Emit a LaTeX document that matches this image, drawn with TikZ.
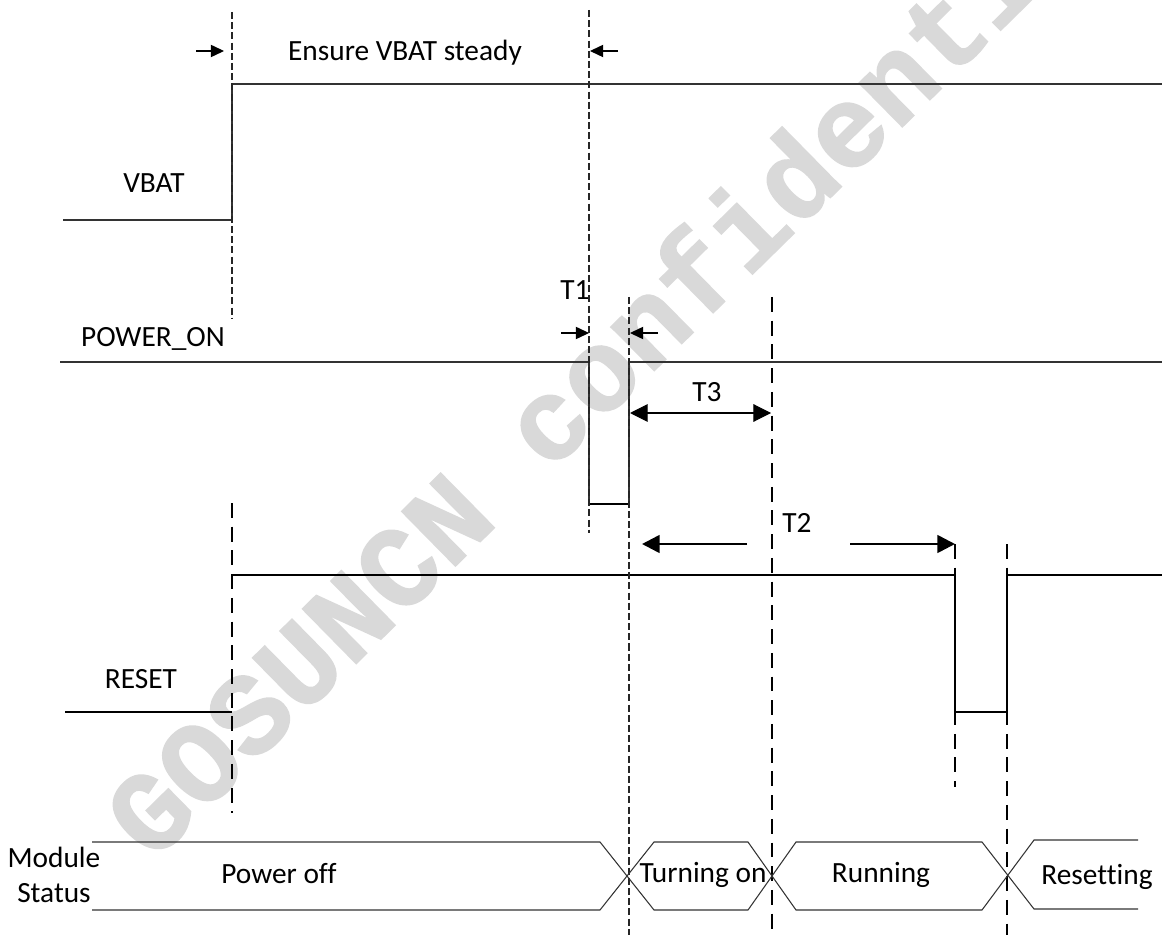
\documentclass[tikz,border=0pt]{standalone}
\usepackage{fontspec}
\setmainfont[Ligatures=NoCommon]{Carlito}
\newfontfamily\wmfont[BoldFeatures={FakeBold=1.5}]{Liberation Mono}
\usetikzlibrary{arrows.meta}
\begin{document}
\begin{tikzpicture}[x=0.02cm,y=-0.02cm,
  thinline/.style={line width=0.6pt, draw=black!80},
  thickline/.style={line width=1.5pt, draw=black},
  thindash/.style={line width=0.6pt, draw=black!85, dash pattern=on 4pt off 1.8pt},
  thickdash/.style={line width=1.5pt, draw=black, dash pattern=on 8.5pt off 5pt},
  lbl/.style={font=\fontsize{16.7}{20}\selectfont, inner sep=0pt, anchor=base},
  smallarrow/.style={-{Triangle[length=7.5pt,width=7pt]}, line width=0.6pt, draw=black},
  dimarrow/.style={{Triangle[length=10pt,width=10pt]}-{Triangle[length=10pt,width=10pt]}, line width=0.6pt, draw=black},
  bigarrow/.style={-{Triangle[length=10pt,width=10pt]}, line width=1.5pt, draw=black},
  wm/.style={font=\wmfont\bfseries\fontsize{66}{70}\selectfont, text=black!15, inner sep=0pt, anchor=base west, rotate=44.5}
]
\useasboundingbox (0,0) rectangle (1162,935);
% watermark
\begin{scope}
\clip (0,0) rectangle (1162,935);
\node[wm] (wmark) at (152,864) {GOSUNCN confidential};
\end{scope}

% coordinates
\coordinate (v0) at (63,220);
\coordinate (v1) at (232,220);
\coordinate (v2) at (232,84);
\coordinate (v3) at (1162,84);
\coordinate (p0) at (60,362);
\coordinate (p1) at (589,362);
\coordinate (p2) at (589,504);
\coordinate (p3) at (629,504);
\coordinate (p4) at (629,362);
\coordinate (p5) at (1162,362);
\coordinate (r0) at (65,712);
\coordinate (r1) at (232,712);
\coordinate (r2) at (232,575);
\coordinate (r3) at (955,575);
\coordinate (r4) at (955,712);
\coordinate (r5) at (1007,712);
\coordinate (r6) at (1007,575);
\coordinate (r7) at (1162,575);

% signals
\draw[thinline] (v0) -- (v1) -- (v2) -- (v3);
\draw[thinline] (p0) -- (p1) -- (p2);
\draw[line width=1pt] (p2) -- (p3);
\draw[thinline] (p3) -- (p4) -- (p5);
\draw[thickline] (r0) -- (r1);
\draw[thickline] (r2) -- (r3) -- (r4) -- (r5) -- (r6) -- (r7);

% dashed guides
\coordinate (da0) at (232,12);   \coordinate (da1) at (232,318);
\coordinate (db0) at (589,10);   \coordinate (db1) at (589,533);
\coordinate (dc0) at (629,297);  \coordinate (dc1) at (629,935);
\coordinate (dd0) at (232,503);  \coordinate (dd1) at (232,813);
\coordinate (de0) at (772,297);  \coordinate (de1) at (772,935);
\coordinate (df0) at (955,544);  \coordinate (df1) at (955,787);
\coordinate (dg0) at (1007,544); \coordinate (dg1) at (1007,935);
\draw[thindash] (da0) -- (da1);
\draw[thindash] (db0) -- (db1);
\draw[thindash] (dc0) -- (dc1);
\draw[thickdash] (dd0) -- (dd1);
\draw[thickdash] (de0) -- (de1);
\draw[thickdash] (df0) -- (df1);
\draw[thickdash] (dg0) -- (dg1);

% arrows
\coordinate (a1s) at (196,51);  \coordinate (a1e) at (224,51);
\coordinate (a2s) at (618,51);  \coordinate (a2e) at (590,51);
\coordinate (t1as) at (561,333); \coordinate (t1ae) at (589,333);
\coordinate (t1bs) at (658,333); \coordinate (t1be) at (630,333);
\coordinate (t3s) at (630,413);  \coordinate (t3e) at (771,413);
\coordinate (t2as) at (747,544); \coordinate (t2ae) at (642,544);
\coordinate (t2bs) at (850,544); \coordinate (t2be) at (955,544);
\draw[smallarrow] (a1s) -- (a1e);
\draw[smallarrow] (a2s) -- (a2e);
\draw[smallarrow] (t1as) -- (t1ae);
\draw[smallarrow] (t1bs) -- (t1be);
\draw[dimarrow] (t3s) -- (t3e);
\draw[bigarrow] (t2as) -- (t2ae);
\draw[bigarrow] (t2bs) -- (t2be);

% module status bus
\draw[thinline] (92,842) -- (600,842) -- (654,910) -- (748,910) -- (796,842) -- (982,842) -- (1034,909) -- (1138,909);
\draw[thinline] (92,910) -- (600,910) -- (654,842) -- (748,842) -- (796,910) -- (982,910) -- (1034,840) -- (1138,840);

% labels
\node[lbl] (ens) at (405,61) {Ensure VBAT steady};
\node[lbl] (vbat) at (154,193) {VBAT};
\node[lbl] (t1) at (575,300) {T1};
\node[lbl] (pwr) at (153,347) {POWER\_ON};
\node[lbl] (t3) at (707,401) {T3};
\node[lbl] (t2) at (797,532) {T2};
\node[lbl] (rst) at (141,688) {RESET};
\node[lbl] (mod) at (54,867) {Module};
\node[lbl] (sta) at (54,902) {Status};
\node[lbl] (poff) at (279,883) {Power off};
\node[lbl] (ton) at (703,882) {Turning on};
\node[lbl] (run) at (881,882) {Running};
\node[lbl] (res) at (1097,884) {Resetting};
\end{tikzpicture}
\end{document}
